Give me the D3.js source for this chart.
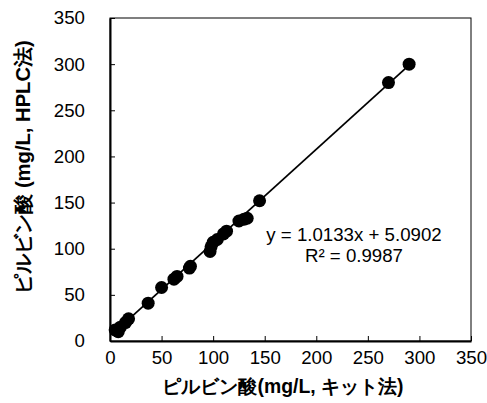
<!DOCTYPE html>
<html>
<head>
<meta charset="utf-8">
<script src="https://cdn.jsdelivr.net/npm/d3@7"></script>
<style>
  body { margin: 0; background: #fff; }
  text { font-family: "Liberation Sans", Arial, sans-serif; }
</style>
</head>
<body>
<div id="chart"></div>
<script>
// kit method values (x) and HPLC values (y)
var kitValues = [5, 8, 10, 15, 18, 37, 50, 62, 65, 77, 78, 97, 98, 100, 104, 110, 113, 125, 130, 133, 145, 270, 290];
var hplcValues = [12, 10, 15, 20, 24, 41, 58, 67, 70, 79, 81, 97, 102, 107, 110, 116, 119, 130, 132, 133, 152, 280, 300];
var tickValues = [0, 50, 100, 150, 200, 250, 300, 350];
var slope = 1.0133, intercept = 5.0902;
var equationLines = ["y = 1.0133x + 5.0902", "R² = 0.9987"];

var margin = { top: 18, right: 16, bottom: 62, left: 110 },
    width = 487 - margin.left - margin.right,
    height = 403 - margin.top - margin.bottom;

var svg = d3.select("#chart")
    .append("svg")
    .attr("width", 487)
    .attr("height", 403)
    .append("g")
    .attr("transform", "translate(" + margin.left + "," + margin.top + ")");

var x = d3.scaleLinear().domain([0, 350]).range([0, width]);
var y = d3.scaleLinear().domain([0, 350]).range([height, 0]);

// frame
svg.append("rect")
    .attr("width", width)
    .attr("height", height)
    .style("fill", "none")
    .style("stroke", "black")
    .style("stroke-width", 1);

// X axis
var xAxis = svg.append("g")
    .attr("transform", "translate(0," + height + ")")
    .call(d3.axisBottom(x).tickValues(tickValues).tickSizeInner(-5).tickSizeOuter(0).tickPadding(10));
// Y axis
var yAxis = svg.append("g")
    .call(d3.axisLeft(y).tickValues(tickValues).tickSizeInner(-5).tickSizeOuter(0).tickPadding(25));

[xAxis, yAxis].forEach(function (a) {
    a.select(".domain").style("stroke", "black").style("stroke-width", 2);
    a.selectAll("line").style("stroke", "black");
    a.selectAll("text").style("font-size", "18.67px").style("fill", "black")
        .style("font-family", "'Liberation Sans', Arial, sans-serif");
});

// trendline across data range
var xMin = d3.min(kitValues), xMax = d3.max(kitValues);
svg.append("line")
    .attr("x1", x(xMin)).attr("y1", y(slope * xMin + intercept))
    .attr("x2", x(xMax)).attr("y2", y(slope * xMax + intercept))
    .style("stroke", "black")
    .style("stroke-width", 1.75);

// dots
svg.append("g")
    .selectAll("circle")
    .data(kitValues)
    .enter()
    .append("circle")
    .attr("cx", function (d) { return x(d); })
    .attr("cy", function (d, i) { return y(hplcValues[i]); })
    .attr("r", 6.5)
    .style("fill", "black");

// equation
svg.append("g")
    .selectAll("text")
    .data(equationLines)
    .enter()
    .append("text")
    .attr("x", 244)
    .attr("y", function (d, i) { return 223 + i * 21; })
    .attr("text-anchor", "middle")
    .style("font-size", "18.67px")
    .text(function (d) { return d; });

// axis labels
svg.append("text")
    .attr("x", 173)
    .attr("y", height + 52)
    .attr("text-anchor", "middle")
    .style("font-size", "19.4px")
    .style("font-weight", "bold")
    .text("ピルビン酸(mg/L, キット法)");

svg.append("text")
    .attr("transform", "rotate(-90)")
    .attr("x", -149)
    .attr("y", -80)
    .attr("text-anchor", "middle")
    .style("font-size", "20.2px")
    .style("font-weight", "bold")
    .text("ピルビン酸 (mg/L, HPLC法)");
</script>
</body>
</html>
